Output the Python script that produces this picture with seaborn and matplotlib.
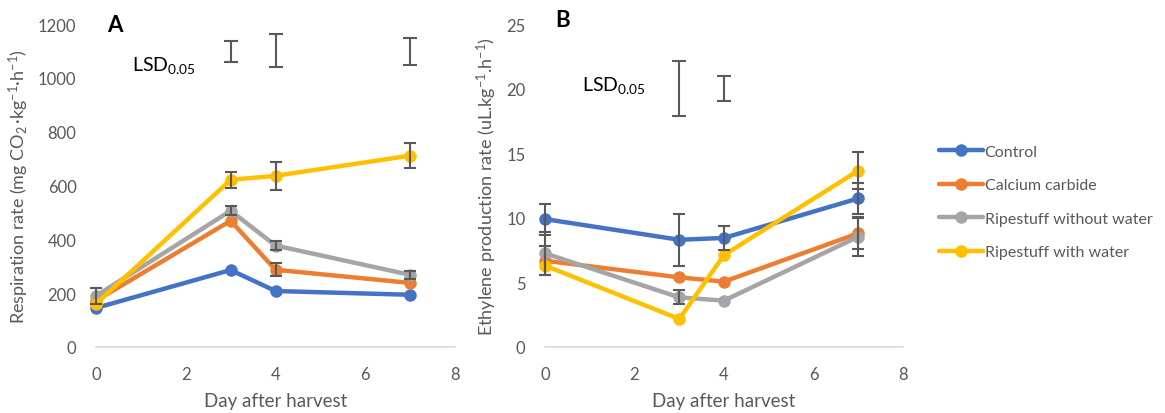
import numpy as np
import pandas as pd
import matplotlib
matplotlib.use("Agg")
import matplotlib.pyplot as plt
import seaborn as sns

# Days after harvest
days = [0, 3, 4, 7]
treatments = ["Control", "Calcium carbide", "Ripestuff without water", "Ripestuff with water"]
colors = ["#4472C4", "#ED7D31", "#A5A5A5", "#FFC000"]

# Respiration rate (mg CO2 kg-1 h-1)
resp_control = [145, 286, 208, 194]
resp_carbide = [172, 469, 287, 238]
resp_dry = [190, 506, 377, 268]
resp_wet = [160, 621, 636, 711]
resp_err_control = [0, 0, 0, 0]
resp_err_carbide = [0, 0, 24, 0]
resp_err_dry = [30, 16, 17, 15]
resp_err_wet = [0, 30, 52, 46]

# Ethylene production rate (uL kg-1 h-1)
eth_control = [9.9, 8.3, 8.44, 11.5]
eth_carbide = [6.68, 5.39, 5.06, 8.8]
eth_dry = [7.25, 3.84, 3.59, 8.54]
eth_wet = [6.3, 2.17, 7.12, 13.65]
eth_err_control = [1.2, 2.0, 0.9, 1.2]
eth_err_carbide = [1.1, 0, 0, 1.2]
eth_err_dry = [1.65, 0.55, 0, 1.5]
eth_err_wet = [0, 0, 0, 1.45]

# LSD (0.05) bars: day, lower, upper
lsd_resp_days = [3, 4, 7]
lsd_resp_low = [1059, 1040, 1048]
lsd_resp_high = [1137, 1163, 1148]
lsd_eth_days = [3, 4]
lsd_eth_low = [17.9, 19.07]
lsd_eth_high = [22.1, 20.95]


def long_frame(series, errs):
    rows = []
    for t, vals, es in zip(treatments, series, errs):
        for d, v, e in zip(days, vals, es):
            rows.append({"day": d, "value": v, "err": e, "treatment": t})
    return pd.DataFrame(rows)


resp_df = long_frame([resp_control, resp_carbide, resp_dry, resp_wet],
                     [resp_err_control, resp_err_carbide, resp_err_dry, resp_err_wet])
eth_df = long_frame([eth_control, eth_carbide, eth_dry, eth_wet],
                    [eth_err_control, eth_err_carbide, eth_err_dry, eth_err_wet])

sns.set_theme(style="white")
plt.rcParams["font.family"] = ["Lato", "DejaVu Sans"]
plt.rcParams["mathtext.fontset"] = "custom"
plt.rcParams["mathtext.rm"] = "Lato"
plt.rcParams["mathtext.it"] = "Lato:italic"
plt.rcParams["mathtext.bf"] = "Lato:bold"

TXT = "#595959"
fig = plt.figure(figsize=(11.65, 4.14), dpi=100)
axA = fig.add_axes([96 / 1165, 66 / 414, 359 / 1165, 323 / 414])
axB = fig.add_axes([545 / 1165, 66 / 414, 358 / 1165, 323 / 414])

palette = dict(zip(treatments, colors))


def draw_panel(ax, df, ymax, ystep, lsd_days, lsd_low, lsd_high, ylabel):
    sns.lineplot(data=df, x="day", y="value", hue="treatment", hue_order=treatments,
                 palette=palette, marker="o", markersize=9, markeredgewidth=0,
                 linewidth=3.2, ax=ax, legend=False, clip_on=False, zorder=2)
    for t in treatments:
        sub = df[(df["treatment"] == t) & (df["err"] > 0)]
        if len(sub):
            ax.errorbar(sub["day"], sub["value"], yerr=sub["err"], fmt="none",
                        ecolor=TXT, elinewidth=1.5, capsize=4, capthick=1.5,
                        zorder=3, clip_on=False)
    lsd_mid = [(a + b) / 2 for a, b in zip(lsd_low, lsd_high)]
    lsd_half = [(b - a) / 2 for a, b in zip(lsd_low, lsd_high)]
    ax.errorbar(lsd_days, lsd_mid, yerr=lsd_half, fmt="none", ecolor=TXT,
                elinewidth=1.5, capsize=5, capthick=1.5, clip_on=False)
    ax.set_xlim(0, 8)
    ax.set_ylim(0, ymax)
    ax.set_xticks(range(0, 9, 2))
    ax.set_yticks(np.arange(0, ymax + ystep / 2, ystep))
    for s in ["top", "right", "left"]:
        ax.spines[s].set_visible(False)
    ax.spines["bottom"].set_color("#D9D9D9")
    ax.spines["bottom"].set_linewidth(1.2)
    ax.tick_params(axis="both", length=0, labelsize=12, colors=TXT)
    ax.tick_params(axis="x", pad=14)
    ax.tick_params(axis="y", pad=14)
    ax.set_xlabel("Day after harvest", fontsize=13.5, color=TXT, labelpad=7)
    ax.set_ylabel(ylabel, fontsize=13, color=TXT, labelpad=5)
    ax.grid(False)


draw_panel(axA, resp_df, 1200, 200, lsd_resp_days, lsd_resp_low, lsd_resp_high,
           r"Respiration rate (mg CO$_2\,$·kg$^{-1}$·h$^{-1}$)")
draw_panel(axB, eth_df, 25, 5, lsd_eth_days, lsd_eth_low, lsd_eth_high,
           r"Ethylene production rate (uL.kg$^{-1}$.h$^{-1}$)")

axA.text(0.03, 1.0, "A", transform=axA.transAxes, fontsize=16, fontweight="bold",
         color="black", va="center", ha="left")
axB.text(0.03, 1.015, "B", transform=axB.transAxes, fontsize=16, fontweight="bold",
         color="black", va="center", ha="left")
axA.text(1.52, 1048, r"LSD$_{0.05}$", fontsize=14, color="black", va="center", ha="center")
axB.text(1.54, 20.3, r"LSD$_{0.05}$", fontsize=14, color="black", va="center", ha="center")

handles = [plt.Line2D([], [], color=c, linewidth=3.2, marker="o", markersize=9,
                      markeredgewidth=0) for c in colors]
leg = fig.legend(handles, treatments, loc="center left", bbox_to_anchor=(925 / 1165, 1 - 203 / 414),
                 frameon=False, fontsize=11.5, handlelength=2.75, handletextpad=0.08,
                 labelspacing=1.2)
for txt in leg.get_texts():
    txt.set_color(TXT)

fig.savefig("out.png", dpi=100)
